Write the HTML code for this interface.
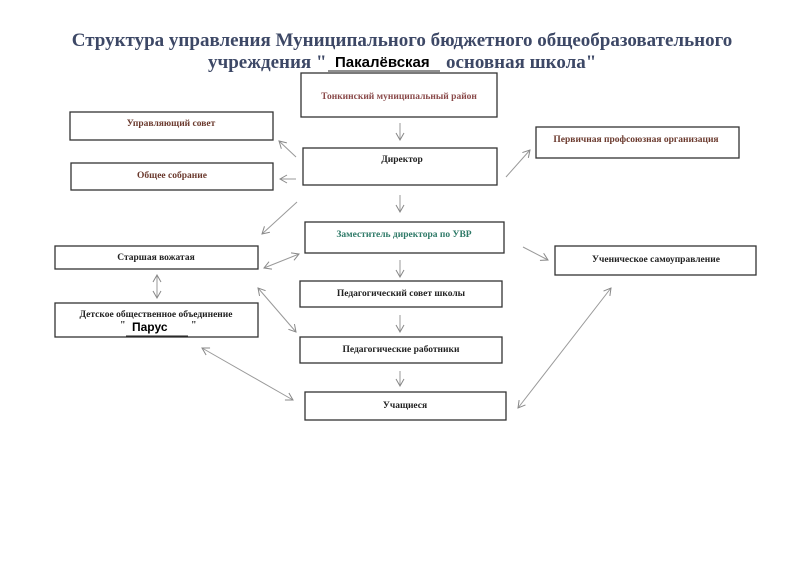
<!DOCTYPE html>
<html><head><meta charset="utf-8"><style>
body{margin:0;background:#fff;}
svg{display:block}
text{font-family:"Liberation Serif","DejaVu Serif",serif;font-weight:bold;}
</style></head><body>
<svg width="800" height="582" viewBox="0 0 800 582" xmlns="http://www.w3.org/2000/svg">
<defs>
<marker id="a" markerWidth="10" markerHeight="10" refX="8" refY="5" orient="auto-start-reverse" markerUnits="userSpaceOnUse">
<path d="M1,1 L8,5 L1,9" fill="none" stroke="#888" stroke-width="1"/>
</marker>
</defs>
<rect width="800" height="582" fill="#fff"/>
<text x="402" y="46" font-size="19" fill="#3d4866" text-anchor="middle">Структура управления Муниципального бюджетного общеобразовательного</text>
<text x="208" y="68" font-size="19" fill="#3d4866">учреждения "</text>
<text x="446" y="68" font-size="19" fill="#3d4866">основная школа"</text>
<text x="335" y="67" font-size="15" fill="#000" font-weight="normal" style="font-family:'Liberation Sans',sans-serif">Пакалёвская</text>
<line x1="328" y1="71" x2="440" y2="71" stroke="#222" stroke-width="1"/>
<g fill="none" stroke="#333" stroke-width="1.3">
<rect x="301" y="73" width="196" height="44"/>
<rect x="70" y="112" width="203" height="28"/>
<rect x="71" y="163" width="202" height="27"/>
<rect x="303" y="148" width="194" height="37"/>
<rect x="536" y="127" width="203" height="31"/>
<rect x="305" y="222" width="199" height="31"/>
<rect x="55" y="246" width="203" height="23"/>
<rect x="555" y="246" width="201" height="29"/>
<rect x="300" y="281" width="202" height="26"/>
<rect x="55" y="303" width="203" height="34"/>
<rect x="300" y="337" width="202" height="26"/>
<rect x="305" y="392" width="201" height="28"/>
</g>
<g font-size="9.5" text-anchor="middle">
<text x="399" y="99" fill="#8a4a4a" font-weight="normal">Тонкинский муниципальный район</text>
<text x="171" y="126" fill="#6b3a2e">Управляющий совет</text>
<text x="172" y="178" fill="#6b3a2e">Общее собрание</text>
<text x="402" y="162" fill="#222">Директор</text>
<text x="636" y="142" fill="#6b3a2e">Первичная профсоюзная организация</text>
<text x="404" y="237" fill="#2f7a68" font-weight="normal">Заместитель директора по УВР</text>
<text x="156" y="260" fill="#222">Старшая вожатая</text>
<text x="656" y="262" fill="#222">Ученическое самоуправление</text>
<text x="401" y="296" fill="#222">Педагогический совет школы</text>
<text x="156" y="317" fill="#222">Детское общественное объединение</text>
<text x="401" y="352" fill="#222">Педагогические работники</text>
<text x="405" y="408" fill="#222">Учащиеся</text>
</g>
<text x="120" y="328" font-size="10" fill="#222">"</text>
<text x="191" y="328" font-size="10" fill="#222">"</text>
<text x="132" y="331" font-size="12" fill="#000" font-weight="normal" style="font-family:'Liberation Sans',sans-serif">Парус</text>
<line x1="126" y1="336" x2="188" y2="336" stroke="#222"/>
<g stroke="#999" stroke-width="1" fill="none">
<line x1="400" y1="123" x2="400" y2="140" marker-end="url(#a)"/>
<line x1="400" y1="195" x2="400" y2="212" marker-end="url(#a)"/>
<line x1="400" y1="260" x2="400" y2="277" marker-end="url(#a)"/>
<line x1="400" y1="315" x2="400" y2="332" marker-end="url(#a)"/>
<line x1="400" y1="371" x2="400" y2="386" marker-end="url(#a)"/>
<line x1="296" y1="157" x2="279" y2="141" marker-end="url(#a)"/>
<line x1="296" y1="179" x2="280" y2="179" marker-end="url(#a)"/>
<line x1="506" y1="177" x2="530" y2="150" marker-end="url(#a)"/>
<line x1="297" y1="202" x2="262" y2="234" marker-end="url(#a)"/>
<line x1="523" y1="247" x2="548" y2="260" marker-end="url(#a)"/>
<line x1="264" y1="268" x2="299" y2="254" marker-start="url(#a)" marker-end="url(#a)"/>
<line x1="157" y1="275" x2="157" y2="298" marker-start="url(#a)" marker-end="url(#a)"/>
<line x1="258" y1="288" x2="296" y2="332" marker-start="url(#a)" marker-end="url(#a)"/>
<line x1="202" y1="348" x2="293" y2="400" marker-start="url(#a)" marker-end="url(#a)"/>
<line x1="518" y1="408" x2="611" y2="288" marker-start="url(#a)" marker-end="url(#a)"/>
</g>
</svg>
</body></html>
